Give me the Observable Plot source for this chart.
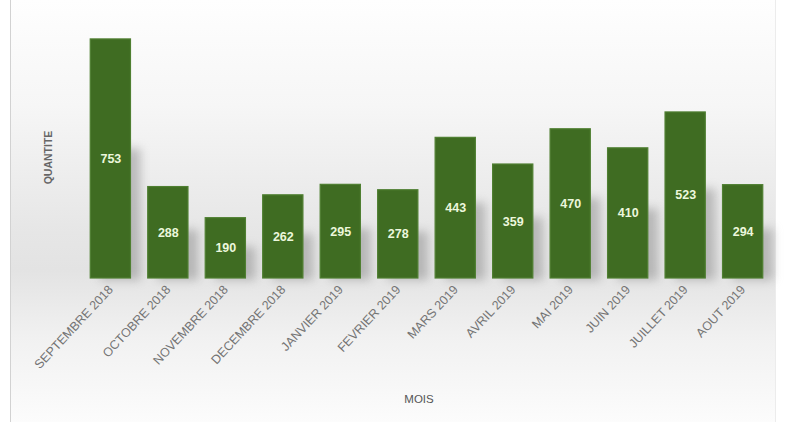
<!DOCTYPE html>
<html><head><meta charset="utf-8">
<script src="https://cdn.jsdelivr.net/npm/d3@7"></script>
<script src="https://cdn.jsdelivr.net/npm/@observablehq/plot@0.6"></script>
<style>
html,body{margin:0;padding:0;background:#fff;}
#wrap{position:relative;width:787px;height:422px;overflow:hidden;background:#fff;}
#bg{position:absolute;left:10px;top:0;width:764px;height:422px;border-left:1px solid #d2d2d2;border-right:1px solid #ececec;
background:linear-gradient(to bottom,#fefefe 0%,#f6f6f6 25%,#e6e6e6 55%,#e3e3e3 64%,#f1f1f1 80%,#fcfcfc 100%);}
#chart{position:absolute;left:0;top:0;}
#chart svg{background:transparent !important;}
</style></head>
<body><div id="wrap"><div id="bg"></div><div id="chart"></div></div>
<script>
const months = ["SEPTEMBRE 2018","OCTOBRE 2018","NOVEMBRE 2018","DECEMBRE 2018","JANVIER 2019","FEVRIER 2019","MARS 2019","AVRIL 2019","MAI 2019","JUIN 2019","JUILLET 2019","AOUT 2019"];
const quantities = [753,288,190,262,295,278,443,359,470,410,523,294];
const xLabel = "MOIS";
const yLabel = "QUANTITE";

const data = months.map((m,i)=>({mois:m, q:quantities[i], shadow:quantities[i]*0.55}));

const plot = Plot.plot({
  width: 787, height: 422,
  marginLeft: 73, marginRight: 7, marginTop: 24, marginBottom: 144,
  style: {background: "transparent", fontFamily: "'Liberation Sans', Arial, sans-serif"},
  x: {domain: months, padding: 0.3, round: false, label: null},
  y: {domain: [0, 800], axis: null},
  marks: [
    Plot.barY(data, {x: "mois", y: "shadow", fill: "#8a8a8a", fillOpacity: 0.5, dx: 10, dy: 2}),
    Plot.barY(data, {x: "mois", y: "q", fill: "#3f6c22", stroke: "#4f7f31", strokeWidth: 1.2}),
    Plot.text(data, {x: "mois", y: d => d.q/2, text: d => String(d.q), fill: "#ecf7dc", fontSize: 12.5, fontWeight: "bold"}),
    Plot.axisX({tickSize: 0, tickPadding: 9, tickRotate: -47, fontSize: 12.5, fill: "#747474", label: null}),
    Plot.text([xLabel], {frameAnchor: "bottom", dy: 124, dx: -8, fontSize: 11.5, fill: "#555"}),
    Plot.text([yLabel], {frameAnchor: "left", textAnchor: "middle", dx: -25, dy: 6, rotate: -90, fontSize: 10.5, fontWeight: "bold", fill: "#666"})
  ]
});
document.getElementById("chart").appendChild(plot);
const bars = plot.querySelectorAll('g[aria-label="bar"]');
if (bars.length) bars[0].style.filter = "blur(5px)";
</script>
</body></html>
